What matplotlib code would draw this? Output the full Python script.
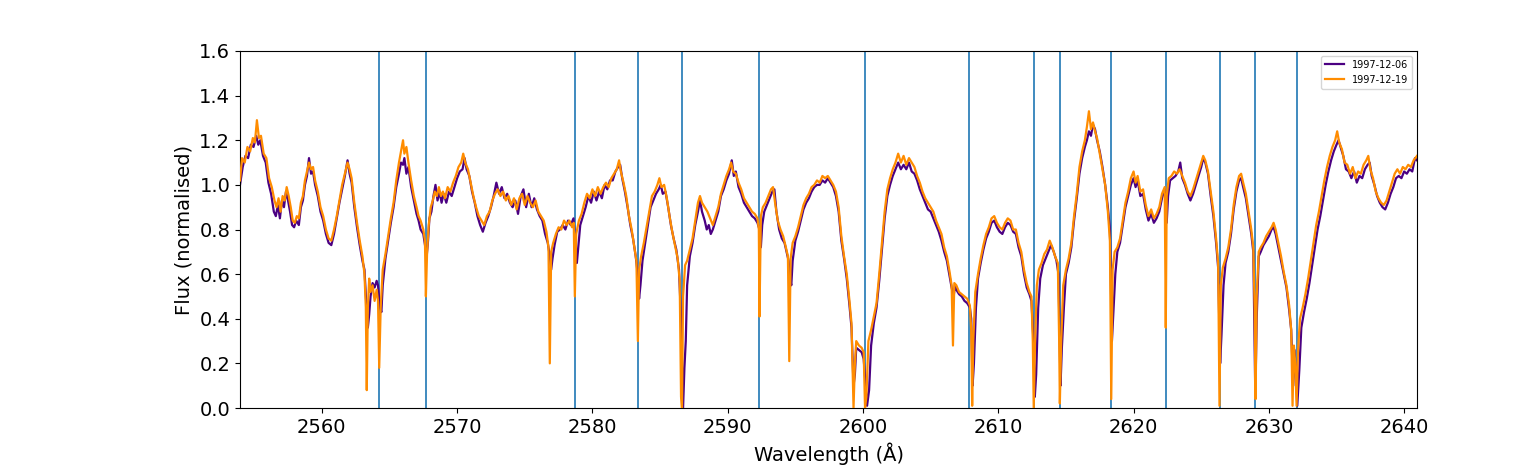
import matplotlib
matplotlib.use("Agg")
import matplotlib.pyplot as plt

# Line positions marked on the spectrum (Angstrom)
LINE_WAVELENGTHS = [2564.21, 2567.69, 2578.70, 2583.36, 2586.61, 2592.32,
                    2600.13, 2607.82, 2612.62, 2614.55, 2618.36, 2622.38,
                    2626.36, 2629.01, 2632.06]

LABEL_EARLY = "1997-12-06"
LABEL_LATE = "1997-12-19"

# (wavelength, normalised flux), 1997-12-06
SPEC_EARLY = [
    (2553.95, 1.00), (2554.15, 1.08), (2554.35, 1.13), (2554.55, 1.12), (2554.75, 1.18),
    (2554.95, 1.17), (2555.15, 1.22), (2555.3, 1.18), (2555.45, 1.20), (2555.65, 1.13),
    (2555.85, 1.10), (2556.05, 1.01), (2556.25, 0.96), (2556.45, 0.88), (2556.6, 0.86),
    (2556.75, 0.91), (2556.9, 0.85), (2557.05, 0.93), (2557.2, 0.90), (2557.35, 0.97),
    (2557.5, 0.93), (2557.65, 0.88), (2557.8, 0.82), (2557.95, 0.81), (2558.1, 0.84),
    (2558.3, 0.82), (2558.45, 0.90), (2558.6, 0.93), (2558.75, 1.00), (2558.9, 1.04),
    (2559.05, 1.12), (2559.2, 1.05), (2559.35, 1.06), (2559.5, 1.00), (2559.7, 0.95),
    (2559.9, 0.88), (2560.1, 0.84), (2560.3, 0.78), (2560.5, 0.74), (2560.7, 0.73),
    (2560.9, 0.78), (2561.1, 0.85), (2561.3, 0.92), (2561.5, 0.98), (2561.7, 1.04),
    (2561.9, 1.11), (2562.05, 1.05), (2562.2, 1.01), (2562.4, 0.90), (2562.6, 0.81),
    (2562.8, 0.73), (2563.0, 0.66), (2563.15, 0.62), (2563.3, 0.45), (2563.4, 0.36),
    (2563.5, 0.42), (2563.6, 0.50), (2563.75, 0.56), (2563.9, 0.54), (2564.05, 0.57),
    (2564.15, 0.55), (2564.3, 0.45), (2564.4, 0.43), (2564.5, 0.55), (2564.7, 0.67),
    (2564.9, 0.75), (2565.1, 0.83), (2565.3, 0.90), (2565.5, 0.99), (2565.7, 1.05),
    (2565.85, 1.10), (2566.0, 1.09), (2566.1, 1.12), (2566.25, 1.05), (2566.4, 1.08),
    (2566.6, 0.99), (2566.8, 0.93), (2567.0, 0.87), (2567.15, 0.84), (2567.3, 0.80),
    (2567.5, 0.78), (2567.65, 0.72), (2567.75, 0.68), (2567.85, 0.75), (2567.95, 0.85),
    (2568.1, 0.88), (2568.25, 0.95), (2568.4, 1.00), (2568.55, 0.93), (2568.7, 0.97),
    (2568.85, 0.92), (2569.0, 0.96), (2569.2, 0.92), (2569.4, 0.97), (2569.6, 0.95),
    (2569.8, 0.99), (2570.0, 1.03), (2570.2, 1.06), (2570.4, 1.07), (2570.55, 1.12),
    (2570.7, 1.07), (2570.9, 1.04), (2571.1, 0.97), (2571.3, 0.92), (2571.5, 0.86),
    (2571.7, 0.82), (2571.9, 0.79), (2572.1, 0.83), (2572.3, 0.86), (2572.5, 0.90),
    (2572.7, 0.95), (2572.9, 1.01), (2573.1, 0.96), (2573.3, 0.99), (2573.5, 0.94),
    (2573.7, 0.96), (2573.9, 0.92), (2574.1, 0.90), (2574.3, 0.93), (2574.5, 0.87),
    (2574.7, 0.95), (2574.9, 0.98), (2575.1, 0.90), (2575.3, 0.96), (2575.5, 0.90),
    (2575.7, 0.94), (2575.9, 0.89), (2576.1, 0.86), (2576.3, 0.84), (2576.5, 0.78),
    (2576.7, 0.74), (2576.85, 0.68), (2576.95, 0.62), (2577.05, 0.67), (2577.2, 0.73),
    (2577.4, 0.79), (2577.6, 0.80), (2577.8, 0.82), (2578.0, 0.80), (2578.2, 0.84),
    (2578.4, 0.82), (2578.6, 0.85), (2578.72, 0.75), (2578.85, 0.65), (2578.95, 0.72),
    (2579.1, 0.82), (2579.3, 0.86), (2579.5, 0.90), (2579.7, 0.95), (2579.9, 0.92),
    (2580.1, 0.97), (2580.3, 0.93), (2580.5, 0.97), (2580.7, 0.94), (2580.9, 1.00),
    (2581.1, 0.98), (2581.3, 1.02), (2581.5, 1.02), (2581.7, 1.06), (2581.9, 1.08),
    (2582.05, 1.09), (2582.2, 1.03), (2582.4, 0.97), (2582.6, 0.90), (2582.8, 0.82),
    (2583.0, 0.76), (2583.2, 0.68), (2583.35, 0.60), (2583.45, 0.49), (2583.55, 0.55),
    (2583.7, 0.66), (2583.9, 0.74), (2584.1, 0.82), (2584.3, 0.90), (2584.5, 0.93),
    (2584.7, 0.96), (2584.9, 0.98), (2585.05, 1.00), (2585.2, 0.96), (2585.4, 0.97),
    (2585.6, 0.90), (2585.8, 0.82), (2586.0, 0.76), (2586.2, 0.71), (2586.4, 0.62),
    (2586.55, 0.40), (2586.7, 0.00), (2586.8, 0.18), (2586.9, 0.30), (2587.0, 0.55),
    (2587.2, 0.68), (2587.4, 0.74), (2587.6, 0.82), (2587.8, 0.88), (2587.95, 0.93),
    (2588.1, 0.88), (2588.3, 0.84), (2588.45, 0.80), (2588.6, 0.82), (2588.75, 0.78),
    (2588.9, 0.80), (2589.1, 0.84), (2589.3, 0.88), (2589.5, 0.95), (2589.7, 0.98),
    (2589.9, 1.02), (2590.1, 1.05), (2590.3, 1.11), (2590.45, 1.04), (2590.6, 1.06),
    (2590.8, 0.99), (2591.0, 0.96), (2591.2, 0.92), (2591.4, 0.90), (2591.6, 0.88),
    (2591.8, 0.86), (2592.0, 0.85), (2592.2, 0.83), (2592.35, 0.80), (2592.45, 0.72),
    (2592.55, 0.82), (2592.7, 0.88), (2592.9, 0.91), (2593.1, 0.94), (2593.3, 0.97),
    (2593.45, 0.98), (2593.6, 0.88), (2593.8, 0.80), (2594.0, 0.76), (2594.2, 0.74),
    (2594.35, 0.70), (2594.5, 0.66), (2594.6, 0.58), (2594.7, 0.55), (2594.8, 0.66),
    (2595.0, 0.75), (2595.2, 0.79), (2595.4, 0.84), (2595.6, 0.89), (2595.8, 0.92),
    (2596.0, 0.94), (2596.2, 0.97), (2596.4, 0.99), (2596.6, 1.00), (2596.8, 1.00),
    (2597.0, 1.02), (2597.2, 1.01), (2597.4, 1.03), (2597.6, 1.01), (2597.8, 0.99),
    (2598.0, 0.95), (2598.2, 0.88), (2598.4, 0.75), (2598.6, 0.67), (2598.8, 0.58),
    (2599.0, 0.46), (2599.15, 0.36), (2599.3, 0.10), (2599.4, 0.15), (2599.5, 0.27),
    (2599.7, 0.26), (2599.9, 0.25), (2600.05, 0.22), (2600.2, 0.10), (2600.3, 0.01),
    (2600.45, 0.08), (2600.6, 0.28), (2600.8, 0.38), (2601.0, 0.45), (2601.2, 0.57),
    (2601.4, 0.71), (2601.6, 0.85), (2601.8, 0.95), (2602.0, 1.00), (2602.2, 1.04),
    (2602.4, 1.07), (2602.6, 1.10), (2602.8, 1.07), (2603.0, 1.09), (2603.2, 1.07),
    (2603.4, 1.10), (2603.6, 1.06), (2603.8, 1.05), (2604.0, 1.02), (2604.2, 0.98),
    (2604.4, 0.95), (2604.6, 0.92), (2604.8, 0.89), (2605.0, 0.88), (2605.2, 0.85),
    (2605.4, 0.82), (2605.6, 0.79), (2605.8, 0.75), (2606.0, 0.70), (2606.2, 0.66),
    (2606.4, 0.59), (2606.55, 0.54), (2606.7, 0.50), (2606.8, 0.55), (2606.9, 0.53),
    (2607.1, 0.51), (2607.3, 0.50), (2607.5, 0.48), (2607.7, 0.47), (2607.9, 0.45),
    (2608.0, 0.40), (2608.1, 0.10), (2608.2, 0.20), (2608.35, 0.45), (2608.5, 0.58),
    (2608.7, 0.65), (2608.9, 0.71), (2609.1, 0.76), (2609.3, 0.79), (2609.5, 0.83),
    (2609.7, 0.84), (2609.9, 0.81), (2610.1, 0.79), (2610.3, 0.78), (2610.5, 0.81),
    (2610.7, 0.83), (2610.9, 0.82), (2611.1, 0.79), (2611.3, 0.78), (2611.5, 0.72),
    (2611.7, 0.68), (2611.9, 0.60), (2612.1, 0.54), (2612.3, 0.51), (2612.45, 0.48),
    (2612.6, 0.30), (2612.7, 0.05), (2612.8, 0.15), (2612.95, 0.45), (2613.1, 0.58),
    (2613.3, 0.64), (2613.5, 0.67), (2613.7, 0.70), (2613.9, 0.73), (2614.1, 0.70),
    (2614.3, 0.66), (2614.45, 0.60), (2614.6, 0.10), (2614.7, 0.27), (2614.85, 0.45),
    (2615.0, 0.60), (2615.2, 0.65), (2615.4, 0.72), (2615.6, 0.84), (2615.8, 0.94),
    (2616.0, 1.05), (2616.2, 1.12), (2616.4, 1.17), (2616.55, 1.20), (2616.7, 1.24),
    (2616.85, 1.22), (2617.0, 1.27), (2617.15, 1.25), (2617.3, 1.20), (2617.5, 1.15),
    (2617.7, 1.08), (2617.9, 1.00), (2618.1, 0.90), (2618.25, 0.80), (2618.4, 0.30),
    (2618.5, 0.42), (2618.65, 0.60), (2618.8, 0.70), (2619.0, 0.74), (2619.2, 0.82),
    (2619.4, 0.90), (2619.6, 0.95), (2619.8, 1.00), (2620.0, 1.03), (2620.15, 0.99),
    (2620.3, 1.02), (2620.5, 0.95), (2620.7, 0.96), (2620.9, 0.89), (2621.1, 0.84),
    (2621.3, 0.87), (2621.5, 0.83), (2621.7, 0.85), (2621.9, 0.88), (2622.1, 0.94),
    (2622.3, 0.98), (2622.45, 0.83), (2622.55, 0.95), (2622.7, 1.02), (2622.9, 1.03),
    (2623.1, 1.04), (2623.3, 1.06), (2623.45, 1.10), (2623.6, 1.03), (2623.8, 1.00),
    (2624.0, 0.96), (2624.2, 0.93), (2624.4, 0.96), (2624.6, 1.00), (2624.8, 1.04),
    (2625.0, 1.08), (2625.15, 1.12), (2625.3, 1.10), (2625.5, 1.05), (2625.7, 0.95),
    (2625.9, 0.86), (2626.1, 0.74), (2626.25, 0.63), (2626.4, 0.20), (2626.5, 0.33),
    (2626.65, 0.55), (2626.8, 0.65), (2627.0, 0.70), (2627.2, 0.78), (2627.4, 0.89),
    (2627.6, 0.97), (2627.8, 1.02), (2627.95, 1.03), (2628.1, 0.99), (2628.3, 0.94),
    (2628.5, 0.86), (2628.7, 0.78), (2628.85, 0.70), (2629.0, 0.05), (2629.1, 0.40),
    (2629.25, 0.68), (2629.4, 0.70), (2629.6, 0.73), (2629.8, 0.75), (2630.0, 0.77),
    (2630.2, 0.80), (2630.35, 0.81), (2630.5, 0.78), (2630.7, 0.72), (2630.9, 0.66),
    (2631.1, 0.60), (2631.3, 0.54), (2631.5, 0.44), (2631.65, 0.35), (2631.8, 0.10),
    (2631.9, 0.26), (2632.0, 0.15), (2632.1, 0.01), (2632.25, 0.17), (2632.4, 0.36),
    (2632.6, 0.43), (2632.8, 0.49), (2633.0, 0.56), (2633.2, 0.64), (2633.4, 0.72),
    (2633.6, 0.80), (2633.8, 0.86), (2634.0, 0.93), (2634.2, 1.00), (2634.4, 1.06),
    (2634.6, 1.11), (2634.8, 1.15), (2635.0, 1.18), (2635.15, 1.20), (2635.3, 1.17),
    (2635.5, 1.13), (2635.7, 1.07), (2635.9, 1.06), (2636.1, 1.03), (2636.3, 1.06),
    (2636.5, 1.01), (2636.7, 1.04), (2636.9, 1.03), (2637.1, 1.07), (2637.3, 1.09),
    (2637.45, 1.10), (2637.6, 1.04), (2637.8, 1.00), (2638.0, 0.95), (2638.2, 0.92),
    (2638.4, 0.90), (2638.6, 0.89), (2638.8, 0.92), (2639.0, 0.96), (2639.2, 0.99),
    (2639.4, 1.03), (2639.6, 1.04), (2639.8, 1.03), (2640.0, 1.06), (2640.2, 1.05),
    (2640.4, 1.07), (2640.6, 1.06), (2640.8, 1.12), (2640.95, 1.11),
]

# (wavelength, normalised flux), 1997-12-19
SPEC_LATE = [
    (2553.95, 1.02), (2554.1, 1.12), (2554.3, 1.10), (2554.5, 1.17), (2554.7, 1.15),
    (2554.9, 1.21), (2555.05, 1.19), (2555.2, 1.29), (2555.35, 1.21), (2555.5, 1.22),
    (2555.7, 1.14), (2555.9, 1.12), (2556.1, 1.03), (2556.3, 0.99), (2556.5, 0.93),
    (2556.65, 0.90), (2556.8, 0.94), (2556.95, 0.88), (2557.1, 0.95), (2557.25, 0.93),
    (2557.4, 0.99), (2557.55, 0.95), (2557.7, 0.90), (2557.85, 0.84), (2558.0, 0.83),
    (2558.15, 0.86), (2558.3, 0.85), (2558.45, 0.92), (2558.6, 0.95), (2558.75, 1.02),
    (2558.9, 1.06), (2559.05, 1.10), (2559.2, 1.07), (2559.35, 1.08), (2559.5, 1.02),
    (2559.7, 0.97), (2559.9, 0.90), (2560.1, 0.86), (2560.3, 0.80), (2560.5, 0.76),
    (2560.7, 0.75), (2560.9, 0.80), (2561.1, 0.86), (2561.3, 0.93), (2561.5, 1.00),
    (2561.7, 1.05), (2561.9, 1.10), (2562.05, 1.07), (2562.2, 1.03), (2562.4, 0.92),
    (2562.6, 0.83), (2562.8, 0.75), (2563.0, 0.68), (2563.15, 0.60), (2563.25, 0.45),
    (2563.32, 0.08), (2563.4, 0.45), (2563.5, 0.58), (2563.6, 0.52), (2563.75, 0.55),
    (2563.9, 0.48), (2564.05, 0.53), (2564.15, 0.48), (2564.24, 0.18), (2564.35, 0.45),
    (2564.5, 0.62), (2564.7, 0.69), (2564.9, 0.77), (2565.1, 0.85), (2565.3, 0.92),
    (2565.5, 1.02), (2565.7, 1.10), (2565.85, 1.15), (2566.0, 1.20), (2566.1, 1.14),
    (2566.25, 1.17), (2566.4, 1.10), (2566.6, 1.02), (2566.8, 0.95), (2567.0, 0.90),
    (2567.15, 0.86), (2567.3, 0.84), (2567.5, 0.80), (2567.62, 0.75), (2567.69, 0.50),
    (2567.78, 0.70), (2567.9, 0.82), (2568.05, 0.90), (2568.2, 0.93), (2568.35, 0.97),
    (2568.5, 0.95), (2568.65, 0.99), (2568.8, 0.95), (2568.95, 0.97), (2569.1, 0.94),
    (2569.3, 0.99), (2569.5, 0.97), (2569.7, 1.01), (2569.9, 1.04), (2570.1, 1.08),
    (2570.3, 1.10), (2570.45, 1.14), (2570.6, 1.10), (2570.8, 1.07), (2571.0, 1.01),
    (2571.2, 0.95), (2571.4, 0.90), (2571.6, 0.86), (2571.8, 0.84), (2572.0, 0.82),
    (2572.2, 0.86), (2572.4, 0.88), (2572.6, 0.93), (2572.8, 0.96), (2573.0, 0.98),
    (2573.2, 0.95), (2573.4, 0.97), (2573.6, 0.93), (2573.8, 0.95), (2574.0, 0.91),
    (2574.2, 0.94), (2574.4, 0.89), (2574.6, 0.94), (2574.8, 0.96), (2575.0, 0.91),
    (2575.2, 0.95), (2575.4, 0.92), (2575.6, 0.90), (2575.8, 0.93), (2576.0, 0.88),
    (2576.2, 0.86), (2576.4, 0.84), (2576.6, 0.79), (2576.75, 0.72), (2576.85, 0.20),
    (2576.95, 0.70), (2577.1, 0.74), (2577.3, 0.78), (2577.5, 0.81), (2577.7, 0.80),
    (2577.9, 0.84), (2578.1, 0.82), (2578.3, 0.84), (2578.5, 0.81), (2578.62, 0.83),
    (2578.7, 0.50), (2578.8, 0.78), (2579.0, 0.84), (2579.2, 0.87), (2579.4, 0.92),
    (2579.6, 0.96), (2579.8, 0.94), (2580.0, 0.98), (2580.2, 0.95), (2580.4, 0.99),
    (2580.6, 0.96), (2580.8, 0.99), (2581.0, 1.01), (2581.2, 0.99), (2581.4, 1.03),
    (2581.6, 1.05), (2581.8, 1.07), (2581.97, 1.11), (2582.1, 1.06), (2582.3, 1.01),
    (2582.5, 0.95), (2582.7, 0.86), (2582.9, 0.80), (2583.1, 0.72), (2583.25, 0.66),
    (2583.36, 0.30), (2583.45, 0.62), (2583.6, 0.68), (2583.8, 0.74), (2584.0, 0.81),
    (2584.2, 0.88), (2584.4, 0.95), (2584.6, 0.97), (2584.8, 1.00), (2584.95, 1.03),
    (2585.1, 0.99), (2585.3, 1.00), (2585.5, 0.94), (2585.7, 0.86), (2585.9, 0.79),
    (2586.1, 0.73), (2586.3, 0.67), (2586.45, 0.57), (2586.55, 0.05), (2586.62, 0.00),
    (2586.7, 0.50), (2586.85, 0.64), (2587.0, 0.66), (2587.2, 0.71), (2587.4, 0.76),
    (2587.6, 0.84), (2587.8, 0.92), (2587.95, 0.95), (2588.1, 0.92), (2588.3, 0.90),
    (2588.5, 0.88), (2588.7, 0.85), (2588.9, 0.82), (2589.1, 0.86), (2589.3, 0.90),
    (2589.5, 0.96), (2589.7, 1.00), (2589.9, 1.04), (2590.1, 1.07), (2590.25, 1.10),
    (2590.4, 1.06), (2590.6, 1.05), (2590.8, 1.01), (2591.0, 0.98), (2591.2, 0.94),
    (2591.4, 0.92), (2591.6, 0.90), (2591.8, 0.88), (2592.0, 0.87), (2592.2, 0.85),
    (2592.3, 0.80), (2592.35, 0.41), (2592.45, 0.86), (2592.6, 0.90), (2592.8, 0.92),
    (2593.0, 0.95), (2593.2, 0.98), (2593.35, 0.99), (2593.5, 0.92), (2593.7, 0.84),
    (2593.9, 0.80), (2594.1, 0.77), (2594.3, 0.72), (2594.45, 0.68), (2594.55, 0.21),
    (2594.65, 0.67), (2594.8, 0.74), (2595.0, 0.77), (2595.2, 0.81), (2595.4, 0.86),
    (2595.6, 0.91), (2595.8, 0.94), (2596.0, 0.96), (2596.2, 0.99), (2596.4, 1.00),
    (2596.6, 1.02), (2596.8, 1.01), (2597.0, 1.04), (2597.2, 1.03), (2597.4, 1.04),
    (2597.6, 1.02), (2597.8, 1.00), (2598.0, 0.97), (2598.2, 0.90), (2598.4, 0.77),
    (2598.6, 0.68), (2598.8, 0.60), (2599.0, 0.48), (2599.15, 0.38), (2599.3, 0.00),
    (2599.4, 0.20), (2599.5, 0.30), (2599.7, 0.28), (2599.9, 0.27), (2600.05, 0.25),
    (2600.15, 0.00), (2600.25, 0.05), (2600.4, 0.30), (2600.6, 0.35), (2600.8, 0.41),
    (2601.0, 0.47), (2601.2, 0.60), (2601.4, 0.74), (2601.6, 0.88), (2601.8, 0.98),
    (2602.0, 1.03), (2602.2, 1.07), (2602.4, 1.10), (2602.6, 1.14), (2602.8, 1.10),
    (2603.0, 1.13), (2603.2, 1.09), (2603.4, 1.12), (2603.6, 1.10), (2603.8, 1.08),
    (2604.0, 1.04), (2604.2, 1.01), (2604.4, 0.97), (2604.6, 0.94), (2604.8, 0.92),
    (2605.0, 0.90), (2605.2, 0.88), (2605.4, 0.84), (2605.6, 0.81), (2605.8, 0.78),
    (2606.0, 0.72), (2606.2, 0.68), (2606.4, 0.61), (2606.55, 0.55), (2606.65, 0.28),
    (2606.75, 0.56), (2606.9, 0.55), (2607.1, 0.52), (2607.3, 0.51), (2607.5, 0.50),
    (2607.7, 0.49), (2607.9, 0.46), (2608.0, 0.35), (2608.07, 0.01), (2608.15, 0.30),
    (2608.3, 0.52), (2608.5, 0.60), (2608.7, 0.67), (2608.9, 0.73), (2609.1, 0.78),
    (2609.3, 0.81), (2609.5, 0.85), (2609.7, 0.86), (2609.9, 0.83), (2610.1, 0.81),
    (2610.3, 0.80), (2610.5, 0.83), (2610.7, 0.85), (2610.9, 0.84), (2611.1, 0.80),
    (2611.3, 0.80), (2611.5, 0.74), (2611.7, 0.70), (2611.9, 0.62), (2612.1, 0.56),
    (2612.3, 0.52), (2612.45, 0.50), (2612.55, 0.30), (2612.62, 0.00), (2612.72, 0.30),
    (2612.85, 0.55), (2613.0, 0.62), (2613.2, 0.65), (2613.4, 0.69), (2613.6, 0.71),
    (2613.8, 0.75), (2614.0, 0.72), (2614.2, 0.68), (2614.4, 0.65), (2614.5, 0.30),
    (2614.55, 0.02), (2614.65, 0.30), (2614.8, 0.55), (2615.0, 0.62), (2615.2, 0.67),
    (2615.4, 0.74), (2615.6, 0.86), (2615.8, 0.96), (2616.0, 1.08), (2616.2, 1.15),
    (2616.4, 1.20), (2616.55, 1.26), (2616.7, 1.33), (2616.85, 1.25), (2617.0, 1.28),
    (2617.15, 1.24), (2617.3, 1.21), (2617.5, 1.14), (2617.7, 1.07), (2617.9, 1.00),
    (2618.1, 0.88), (2618.25, 0.75), (2618.35, 0.04), (2618.45, 0.62), (2618.6, 0.70),
    (2618.8, 0.72), (2619.0, 0.76), (2619.2, 0.84), (2619.4, 0.92), (2619.6, 0.97),
    (2619.8, 1.03), (2620.0, 1.06), (2620.15, 1.01), (2620.3, 1.04), (2620.5, 0.97),
    (2620.7, 0.98), (2620.9, 0.91), (2621.1, 0.86), (2621.3, 0.89), (2621.5, 0.85),
    (2621.7, 0.87), (2621.9, 0.90), (2622.1, 0.96), (2622.3, 0.99), (2622.38, 0.36),
    (2622.45, 0.95), (2622.6, 1.03), (2622.8, 1.04), (2623.0, 1.06), (2623.2, 1.05),
    (2623.4, 1.07), (2623.6, 1.04), (2623.8, 1.01), (2624.0, 0.97), (2624.2, 0.95),
    (2624.4, 0.98), (2624.6, 1.02), (2624.8, 1.06), (2625.0, 1.10), (2625.15, 1.13),
    (2625.3, 1.11), (2625.5, 1.06), (2625.7, 0.97), (2625.9, 0.88), (2626.1, 0.76),
    (2626.25, 0.65), (2626.35, 0.01), (2626.45, 0.55), (2626.6, 0.63), (2626.8, 0.67),
    (2627.0, 0.72), (2627.2, 0.80), (2627.4, 0.91), (2627.6, 0.99), (2627.8, 1.04),
    (2627.95, 1.05), (2628.1, 1.01), (2628.3, 0.96), (2628.5, 0.88), (2628.7, 0.80),
    (2628.85, 0.72), (2628.95, 0.45), (2629.02, 0.04), (2629.1, 0.50), (2629.25, 0.70),
    (2629.4, 0.72), (2629.6, 0.74), (2629.8, 0.77), (2630.0, 0.79), (2630.2, 0.81),
    (2630.35, 0.83), (2630.5, 0.80), (2630.7, 0.74), (2630.9, 0.68), (2631.1, 0.61),
    (2631.3, 0.55), (2631.5, 0.46), (2631.65, 0.35), (2631.75, 0.01), (2631.85, 0.28),
    (2631.95, 0.20), (2632.05, 0.01), (2632.15, 0.25), (2632.3, 0.40), (2632.5, 0.45),
    (2632.7, 0.51), (2632.9, 0.58), (2633.1, 0.66), (2633.3, 0.74), (2633.5, 0.82),
    (2633.7, 0.88), (2633.9, 0.95), (2634.1, 1.02), (2634.3, 1.08), (2634.5, 1.13),
    (2634.7, 1.17), (2634.9, 1.20), (2635.05, 1.24), (2635.2, 1.19), (2635.4, 1.16),
    (2635.6, 1.10), (2635.8, 1.09), (2636.0, 1.05), (2636.2, 1.08), (2636.4, 1.03),
    (2636.6, 1.06), (2636.8, 1.05), (2637.0, 1.09), (2637.2, 1.11), (2637.35, 1.13),
    (2637.5, 1.07), (2637.7, 1.03), (2637.9, 0.97), (2638.1, 0.94), (2638.3, 0.92),
    (2638.5, 0.91), (2638.7, 0.93), (2638.9, 0.97), (2639.1, 1.01), (2639.3, 1.05),
    (2639.5, 1.07), (2639.7, 1.05), (2639.9, 1.08), (2640.1, 1.07), (2640.3, 1.09),
    (2640.5, 1.08), (2640.7, 1.11), (2640.95, 1.13),
]

fig = plt.figure(figsize=(15.3, 4.75), dpi=100)
ax = fig.add_axes([240 / 1530, 1 - 408 / 475, 1177 / 1530, 357 / 475])

for wl in LINE_WAVELENGTHS:
    ax.axvline(wl, color="tab:blue", linewidth=1.2, zorder=1)

wl_e, fl_e = zip(*SPEC_EARLY)
wl_l, fl_l = zip(*SPEC_LATE)
ax.plot(wl_e, fl_e, color="indigo", linewidth=1.6, label=LABEL_EARLY, zorder=2)
ax.plot(wl_l, fl_l, color="darkorange", linewidth=1.6, label=LABEL_LATE, zorder=3)

ax.set_xlim(2553.95, 2640.95)
ax.set_ylim(0, 1.6)
ax.set_xticks(range(2560, 2641, 10))
ax.set_yticks([0.0, 0.2, 0.4, 0.6, 0.8, 1.0, 1.2, 1.4, 1.6])
ax.tick_params(labelsize=14)
ax.set_xlabel("Wavelength (Å)", fontsize=14)
ax.set_ylabel("Flux (normalised)", fontsize=14)
ax.legend(loc="upper right", fontsize=7)

fig.savefig("out.png", dpi=100)
